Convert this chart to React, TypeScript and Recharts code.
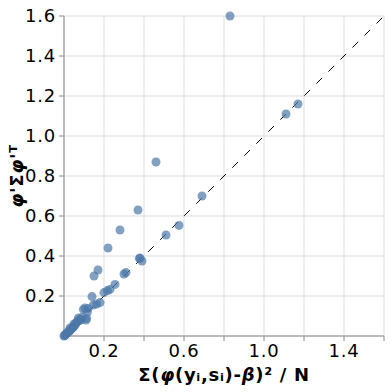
import {
  ScatterChart,
  Scatter,
  XAxis,
  YAxis,
  CartesianGrid,
  ReferenceLine,
  Label,
} from "recharts";

// observed values (x) vs model values (y)
const xValues = [
  0.83, 1.11, 1.17, 0.69, 0.46, 0.37, 0.28, 0.22, 0.17, 0.15,
  0.575, 0.51, 0.377, 0.39, 0.38, 0.31, 0.3, 0.255, 0.23, 0.217,
  0.2, 0.14, 0.18, 0.163, 0.12, 0.097, 0.117, 0.11, 0.105, 0.147,
  0.113, 0.08, 0.085, 0.072, 0.065, 0.06, 0.055, 0.05, 0.045, 0.04,
  0.035, 0.03, 0.025, 0.02, 0.015, 0.01, 0.006, 0.003, 0.0, 0.05,
  0.03, 0.07, 0.09,
];
const yValues = [
  1.6, 1.11, 1.16, 0.7, 0.87, 0.63, 0.53, 0.44, 0.33, 0.3,
  0.553, 0.505, 0.387, 0.375, 0.39, 0.317, 0.31, 0.258, 0.233, 0.227,
  0.217, 0.197, 0.167, 0.16, 0.138, 0.133, 0.12, 0.08, 0.14, 0.155,
  0.088, 0.083, 0.08, 0.09, 0.07, 0.065, 0.055, 0.05, 0.042, 0.04,
  0.032, 0.03, 0.022, 0.02, 0.013, 0.01, 0.005, 0.002, 0.0, 0.06,
  0.04, 0.075, 0.092,
];

const xTicks = [0.2, 0.4, 0.6, 0.8, 1.0, 1.2, 1.4, 1.6];
const xLabelled = [0.2, 0.6, 1.0, 1.4];
const yTicks = [0.2, 0.4, 0.6, 0.8, 1.0, 1.2, 1.4, 1.6];
const diagonal = [
  { x: 0, y: 0 },
  { x: 1.6, y: 1.6 },
];

const points = xValues.map((x, i) => ({ x, y: yValues[i] }));

const font = "'DejaVu Sans', Verdana, sans-serif";

function XTick(props: any) {
  const { x, y, payload } = props;
  const v = payload.value;
  const show = xLabelled.some((t) => Math.abs(t - v) < 1e-6);
  if (!show) return null;
  return (
    <text x={x} y={y} dy={12.8} textAnchor="middle" fontSize={18} letterSpacing={0.8} fill="#000" fontFamily={font}>
      {v.toFixed(1)}
    </text>
  );
}

function YTick(props: any) {
  const { x, y, payload } = props;
  return (
    <text x={x + 1} y={y} dy={6.4} textAnchor="end" fontSize={18} letterSpacing={0.8} fill="#000" fontFamily={font}>
      {payload.value.toFixed(1)}
    </text>
  );
}

function XTitle(props: any) {
  const vb = props.viewBox || { x: 64, width: 320, y: 336 };
  const cx = vb.x + vb.width / 2;
  return (
    <text x={cx} y={381} textAnchor="middle" fontSize={18} fontWeight="bold" letterSpacing={0.7} fill="#000" fontFamily={font}>
      Σ(<tspan fontStyle="italic">φ</tspan>(yᵢ,sᵢ)-<tspan fontStyle="italic">β</tspan>)² / N
    </text>
  );
}

function YTitle(props: any) {
  const vb = props.viewBox || { y: 16, height: 320 };
  const cy = vb.y + vb.height / 2;
  return (
    <text
      x={23}
      y={cy}
      transform={`rotate(-90, 23, ${cy})`}
      textAnchor="middle"
      fontSize={18}
      fontWeight="bold"
      letterSpacing={0.7}
      fill="#000"
      fontFamily={font}
    >
      <tspan fontStyle="italic">φ</tspan>'Σ<tspan fontStyle="italic">φ</tspan>'ᵀ
    </text>
  );
}

export default function App() {
  return (
    <div style={{ position: "absolute", left: 0, top: 0 }}>
      <ScatterChart
        width={392}
        height={392}
        margin={{ top: 16, right: 8, left: 0, bottom: 0 }}
        style={{ fontFamily: font }}
      >
        <CartesianGrid stroke="#ddd" strokeWidth={1} />
        <XAxis
          type="number"
          dataKey="x"
          domain={[0, 1.6]}
          ticks={xTicks}
          interval={0}
          height={56}
          stroke="#888"
          tickSize={5}
          tickMargin={3}
          tick={<XTick />}
        >
          <Label content={<XTitle />} />
        </XAxis>
        <YAxis
          type="number"
          dataKey="y"
          domain={[0, 1.6]}
          ticks={yTicks}
          interval={0}
          width={64}
          stroke="#888"
          tickSize={5}
          tickMargin={4}
          tick={<YTick />}
        >
          <Label content={<YTitle />} />
        </YAxis>
        <ReferenceLine
          segment={diagonal}
          stroke="#000"
          strokeWidth={1}
          strokeDasharray="8 9"
          ifOverflow="visible"
        />
        <Scatter
          data={points}
          fill="#4c78a8"
          fillOpacity={0.7}
          isAnimationActive={false}
          shape={(p: any) => <circle cx={p.cx} cy={p.cy} r={4.5} fill="#4c78a8" fillOpacity={0.7} />}
        />
      </ScatterChart>
    </div>
  );
}
